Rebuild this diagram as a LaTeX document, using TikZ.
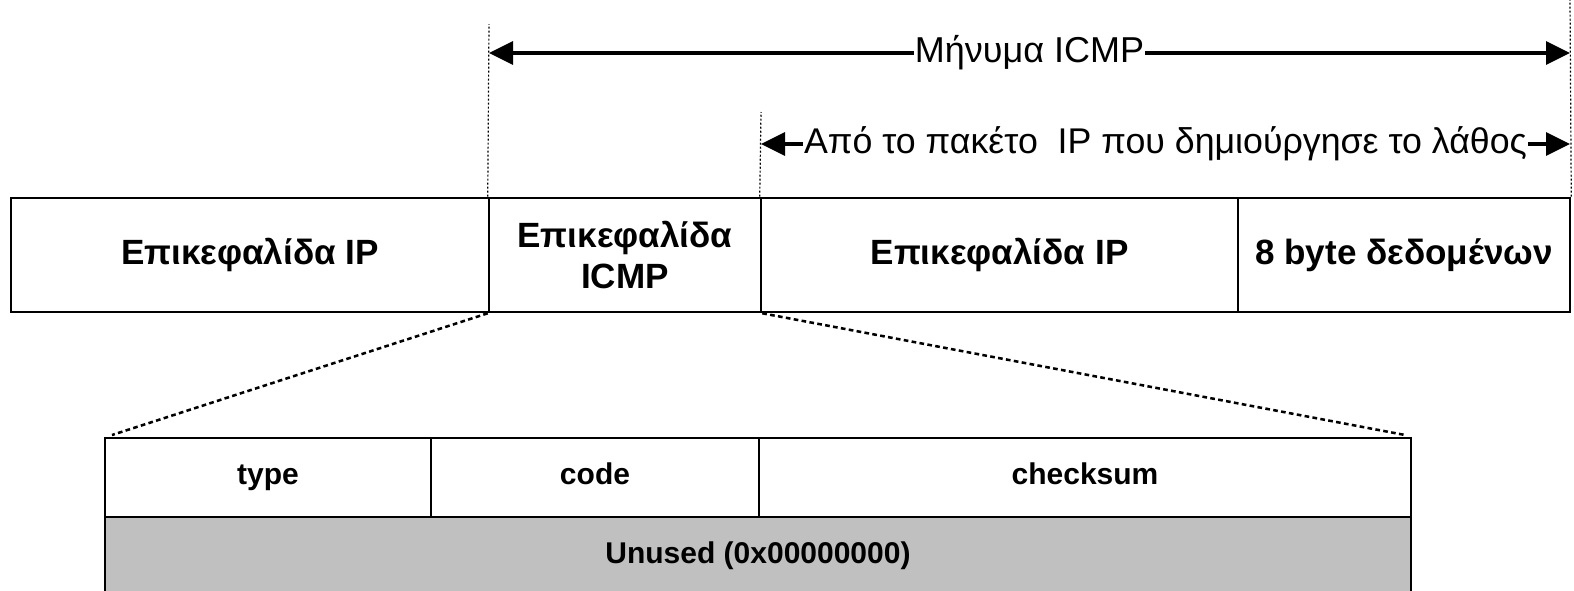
\documentclass[tikz,border=0pt]{standalone}
\usepackage{fontspec}
\setmainfont{Liberation Sans}
\usetikzlibrary{arrows.meta}
\tikzset{
  topbox/.style={draw, line width=1.9pt, inner sep=0pt, minimum height=85.5pt, font=\bfseries\fontsize{26.3pt}{31pt}\selectfont, align=center},
  fieldbox/.style={draw, line width=1.9pt, inner sep=0pt, minimum height=59.25pt, text height=15pt, text depth=5pt, font=\bfseries\fontsize{22.5pt}{27pt}\selectfont},
  guide/.style={line width=0.9pt, dash pattern=on 1.5pt off 1.5pt},
  zoomline/.style={line width=1.9pt, dash pattern=on 3.5pt off 2.5pt},
  span/.style={line width=3pt, {Triangle[length=18pt,width=17pt]}-{Triangle[length=18pt,width=17pt]}},
  spanlabel/.style={fill=white, inner sep=1pt, font=\fontsize{27pt}{32pt}\selectfont}
}
\begin{document}
\begin{tikzpicture}[x=0.75pt,y=-0.75pt]
\clip (0,0) rectangle (1574,590);
\fill[white] (0,0) rectangle (1574,590);
% top row
\node[topbox, minimum width=358.5pt] (ip1) at (250,255) {Επικεφαλίδα IP};
\node[topbox, minimum width=204pt] (icmp) at (625,255) {Επικεφαλίδα\\ICMP};
\node[topbox, minimum width=357.75pt] (ip2) at (999.5,255) {Επικεφαλίδα IP};
\node[topbox, minimum width=249pt] (data) at (1404,255) {8 byte δεδομένων};
% guides
\coordinate (t1) at (489,24);
\coordinate (t2) at (761,112);
\coordinate (t3) at (1570,0);
\draw[guide] (icmp.north west) -- (t1);
\draw[guide] (ip2.north west) -- (t2);
\draw[guide] (data.north east) -- (t3);
% span arrows
\coordinate (a1l) at (489,53);
\coordinate (a1r) at (1570,53);
\coordinate (a2l) at (761,144);
\coordinate (a2r) at (1570,144);
\draw[span] (a1l) -- node[spanlabel] (lbl1) {Μήνυμα ICMP} (a1r);
\draw[span] (a2l) -- node[spanlabel, font=\fontsize{26.8pt}{32pt}\selectfont] (lbl2) {Από το πακέτο\ \ IP που δημιούργησε το λάθος} (a2r);
% bottom table
\node[fieldbox, fill={rgb,255:red,192;green,192;blue,192}, minimum width=979.5pt] (unused) at (758,556.5) {Unused (0x00000000)};
\node[fieldbox, minimum width=244.5pt] (type) at (268,477.5) {type};
\node[fieldbox, minimum width=246pt] (code) at (595,477.5) {code};
\node[fieldbox, minimum width=489pt] (cks) at (1085,477.5) {checksum};
% zoom lines
\coordinate (dl) at (112,435);
\coordinate (dr) at (1405,435);
\draw[zoomline] (icmp.south west) -- (dl);
\draw[zoomline] (icmp.south east) -- (dr);
\end{tikzpicture}
\end{document}
